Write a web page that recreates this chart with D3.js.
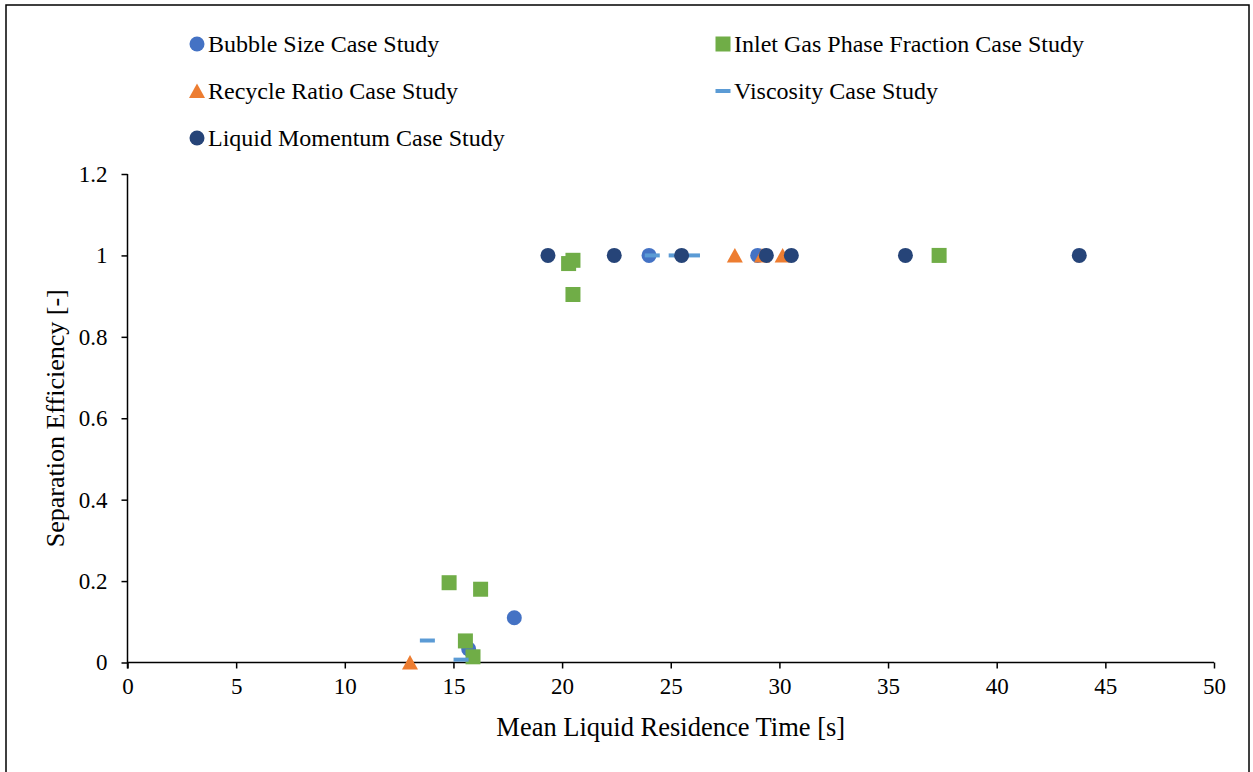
<!DOCTYPE html>
<html>
<head>
<meta charset="utf-8">
<script src="https://cdn.jsdelivr.net/npm/d3@7"></script>
<style>
  body { margin: 0; background: #fff; }
  text { font-family: 'Liberation Serif', 'Times New Roman', serif; fill: #000; }
</style>
</head>
<body>
<div id="chart"></div>
<script>
// series values: [residence time, efficiency]
const bubbleSize = [[15.7, 0.033], [17.8, 0.11], [24.0, 1], [29.0, 1]]
const inletGas = [[14.8, 0.196], [16.25, 0.18], [15.55, 0.053], [15.9, 0.014], [20.3, 0.98], [20.5, 0.988], [20.5, 0.904], [37.35, 1]]
const recycleRatio = [[13.0, 0], [27.95, 1], [29.2, 1], [30.15, 1]]
const viscosity = [[13.8, 0.054], [15.35, 0.007], [24.15, 1], [25.25, 1], [26.0, 1]]
const liquidMomentum = [[19.35, 1], [22.4, 1], [25.5, 1], [29.4, 1], [30.55, 1], [35.8, 1], [43.8, 1]]

const xTicks = [0, 5, 10, 15, 20, 25, 30, 35, 40, 45, 50]
const yTicks = [0, 0.2, 0.4, 0.6, 0.8, 1, 1.2]

const series = [
  { name: 'Bubble Size Case Study', data: bubbleSize, color: '#4472C4', shape: 'circle' },
  { name: 'Inlet Gas Phase Fraction Case Study', data: inletGas, color: '#70AD47', shape: 'square' },
  { name: 'Recycle Ratio Case Study', data: recycleRatio, color: '#ED7D31', shape: 'triangle' },
  { name: 'Viscosity Case Study', data: viscosity, color: '#5B9BD5', shape: 'dash' },
  { name: 'Liquid Momentum Case Study', data: liquidMomentum, color: '#264478', shape: 'circle' }
]

const width = 1253
const height = 772
const margin = { top: 174, right: 39, bottom: 109.5, left: 127.5 }

const svg = d3.select('#chart')
  .append('svg')
  .attr('width', width)
  .attr('height', height)

// outer chart frame
svg.append('rect')
  .attr('x', 6)
  .attr('y', 5)
  .attr('width', 1243)
  .attr('height', 800)
  .attr('fill', '#fff')
  .attr('stroke', '#000')
  .attr('stroke-width', 1.5)

const x = d3.scaleLinear()
  .domain([0, 50])
  .range([margin.left, width - margin.right])

const y = d3.scaleLinear()
  .domain([0, 1.2])
  .range([height - margin.bottom, margin.top])

const xAxis = svg.append('g')
  .attr('transform', `translate(0, ${y(0)})`)
  .call(d3.axisBottom(x).tickValues(xTicks).tickSize(6).tickPadding(9).tickFormat(d3.format('d')))
xAxis.select('.domain').attr('d', `M${x(0)},0H${x(50)}`).attr('stroke-width', 1.5)
xAxis.selectAll('line').attr('stroke-width', 1.5)
xAxis.selectAll('text').attr('font-size', 23).attr('font-family', 'Liberation Serif')

const yAxis = svg.append('g')
  .attr('transform', `translate(${x(0)}, 0)`)
  .call(d3.axisLeft(y).tickValues(yTicks).tickSize(6).tickPadding(14).tickFormat(d => d3.format('~g')(d)))
yAxis.select('.domain').attr('d', `M0,${y(1.2)}V${y(0) + 6}`).attr('stroke-width', 1.5)
yAxis.selectAll('line').attr('stroke-width', 1.5)
yAxis.selectAll('text').attr('font-size', 23).attr('font-family', 'Liberation Serif')

svg.append('text')
  .attr('x', (x(0) + x(50)) / 2)
  .attr('y', 736)
  .attr('text-anchor', 'middle')
  .attr('font-size', 26.5)
  .text('Mean Liquid Residence Time [s]')

svg.append('text')
  .attr('transform', `translate(64, ${(y(0) + y(1.2)) / 2}) rotate(-90)`)
  .attr('text-anchor', 'middle')
  .attr('font-size', 26)
  .text('Separation Efficiency [-]')

function drawMarker (sel, shape, color) {
  if (shape === 'circle') {
    sel.append('circle').attr('r', 7.5).attr('fill', color)
  } else if (shape === 'square') {
    sel.append('rect').attr('x', -7.5).attr('y', -7.5).attr('width', 15).attr('height', 15).attr('fill', color)
  } else if (shape === 'triangle') {
    sel.append('path').attr('d', 'M0,-7.5L8,7L-8,7Z').attr('fill', color)
  } else {
    sel.append('rect').attr('x', -7.5).attr('y', -2).attr('width', 15).attr('height', 4).attr('fill', color)
  }
}

for (const s of series) {
  svg.append('g')
    .selectAll('g')
    .data(s.data)
    .join('g')
    .attr('transform', d => `translate(${x(d[0])}, ${y(d[1])})`)
    .each(function () { drawMarker(d3.select(this), s.shape, s.color) })
}

// legend, two columns filled row by row
const legendCols = [197, 723]
const legendRows = [44, 91, 138]
series.forEach((s, i) => {
  const item = svg.append('g')
    .attr('transform', `translate(${legendCols[i % 2]}, ${legendRows[Math.floor(i / 2)]})`)
  drawMarker(item, s.shape, s.color)
  item.append('text')
    .attr('x', 11)
    .attr('y', 8)
    .attr('font-size', 24)
    .text(s.name)
})
</script>
</body>
</html>
